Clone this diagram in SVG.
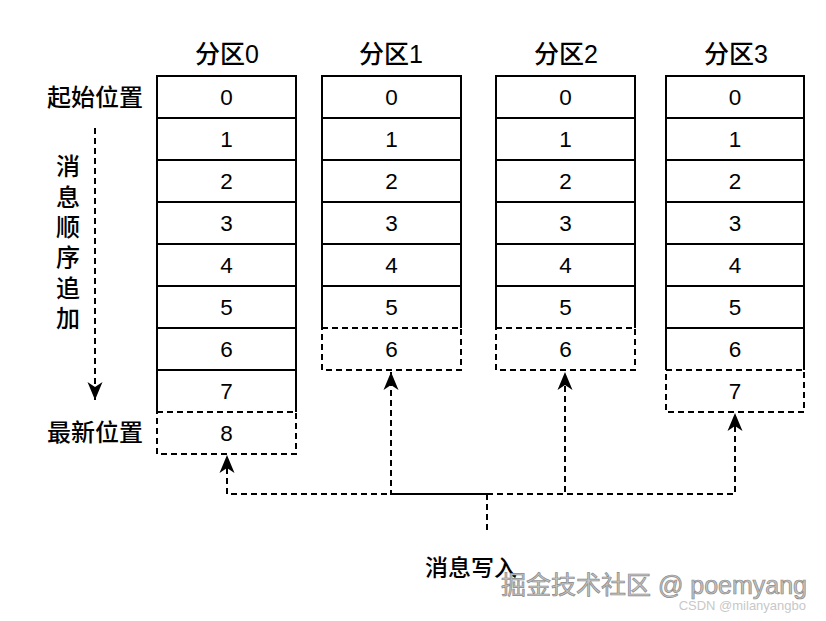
<svg xmlns="http://www.w3.org/2000/svg" width="826" height="621" viewBox="0 0 826 621">
<defs>
<style>
text{font-family:"Liberation Sans","Noto Sans CJK SC",sans-serif;fill:#000}
.num{font-size:22.5px;text-anchor:middle}
.title{font-size:25px;text-anchor:middle;font-weight:500}
.lbl{font-size:24px;text-anchor:middle;font-weight:500}
.solid{fill:none;stroke:#000;stroke-width:2}
.dash{fill:#fff;stroke:#000;stroke-width:2;stroke-dasharray:6 4}
.edge{fill:none;stroke:#000;stroke-width:2;stroke-dasharray:6 4}
.wm{font-size:25px;fill:#c4c4c4;stroke:#888;stroke-width:0.7;text-anchor:end}
.wm2{font-size:13px;fill:#c8c8c8;text-anchor:end}
</style>
<marker id="arr" viewBox="-19 -9 20 18" refX="0" refY="0" markerWidth="20" markerHeight="18" markerUnits="userSpaceOnUse" orient="auto">
<path d="M0,0 L-18,-7.5 L-13,0 L-18,7.5 Z" fill="#000"/>
</marker>
</defs>
<rect width="826" height="621" fill="#fff"/>

<g id="partition0">
<text class="title" x="227" y="63">分区0</text>
<rect class="dash" x="157" y="412" width="139" height="42"/>
<path class="solid" d="M157,412 V76 H296 V412 M157,118 H296 M157,160 H296 M157,202 H296 M157,244 H296 M157,286 H296 M157,328 H296 M157,370 H296"/>
<text class="num" x="226.5" y="105">0</text>
<text class="num" x="226.5" y="147">1</text>
<text class="num" x="226.5" y="189">2</text>
<text class="num" x="226.5" y="231">3</text>
<text class="num" x="226.5" y="273">4</text>
<text class="num" x="226.5" y="315">5</text>
<text class="num" x="226.5" y="357">6</text>
<text class="num" x="226.5" y="399">7</text>
<text class="num" x="226.5" y="441">8</text>
</g>

<g id="partition1">
<text class="title" x="391" y="63">分区1</text>
<rect class="dash" x="322" y="328" width="139" height="42"/>
<path class="solid" d="M322,328 V76 H461 V328 M322,118 H461 M322,160 H461 M322,202 H461 M322,244 H461 M322,286 H461"/>
<text class="num" x="391.5" y="105">0</text>
<text class="num" x="391.5" y="147">1</text>
<text class="num" x="391.5" y="189">2</text>
<text class="num" x="391.5" y="231">3</text>
<text class="num" x="391.5" y="273">4</text>
<text class="num" x="391.5" y="315">5</text>
<text class="num" x="391.5" y="357">6</text>
</g>

<g id="partition2">
<text class="title" x="566" y="63">分区2</text>
<rect class="dash" x="496" y="328" width="139" height="42"/>
<path class="solid" d="M496,328 V76 H635 V328 M496,118 H635 M496,160 H635 M496,202 H635 M496,244 H635 M496,286 H635"/>
<text class="num" x="565.5" y="105">0</text>
<text class="num" x="565.5" y="147">1</text>
<text class="num" x="565.5" y="189">2</text>
<text class="num" x="565.5" y="231">3</text>
<text class="num" x="565.5" y="273">4</text>
<text class="num" x="565.5" y="315">5</text>
<text class="num" x="565.5" y="357">6</text>
</g>

<g id="partition3">
<text class="title" x="736" y="63">分区3</text>
<rect class="dash" x="666" y="370" width="138" height="42"/>
<path class="solid" d="M666,370 V76 H804 V370 M666,118 H804 M666,160 H804 M666,202 H804 M666,244 H804 M666,286 H804 M666,328 H804"/>
<text class="num" x="735" y="105">0</text>
<text class="num" x="735" y="147">1</text>
<text class="num" x="735" y="189">2</text>
<text class="num" x="735" y="231">3</text>
<text class="num" x="735" y="273">4</text>
<text class="num" x="735" y="315">5</text>
<text class="num" x="735" y="357">6</text>
<text class="num" x="735" y="399">7</text>
</g>

<g id="labels">
<text class="lbl" x="95" y="106">起始位置</text>
<text class="lbl" x="95" y="441">最新位置</text>
<text class="lbl" x="68" y="175">消</text>
<text class="lbl" x="68" y="205.5">息</text>
<text class="lbl" x="68" y="236">顺</text>
<text class="lbl" x="68" y="266">序</text>
<text class="lbl" x="68" y="296.5">追</text>
<text class="lbl" x="68" y="327">加</text>
</g>

<g id="writer">
<text class="lbl" x="471" y="576" style="font-size:23px">消息写入</text>
</g>

<g id="connectors">
<path class="edge" d="M95,128 V400" marker-end="url(#arr)"/>
<path class="edge" d="M487,494 H227 V455" marker-end="url(#arr)"/>
<path class="edge" d="M487,530 V494 H391 V372" marker-end="url(#arr)"/>
<path class="edge" d="M487,494 H565 V372" marker-end="url(#arr)"/>
<path class="edge" d="M487,494 H735 V413" marker-end="url(#arr)"/>
</g>

<g id="watermark">
<text class="wm" x="807" y="594">掘金技术社区 @ poemyang</text>
<text class="wm2" x="806" y="610">CSDN @milanyangbo</text>
</g>
</svg>
